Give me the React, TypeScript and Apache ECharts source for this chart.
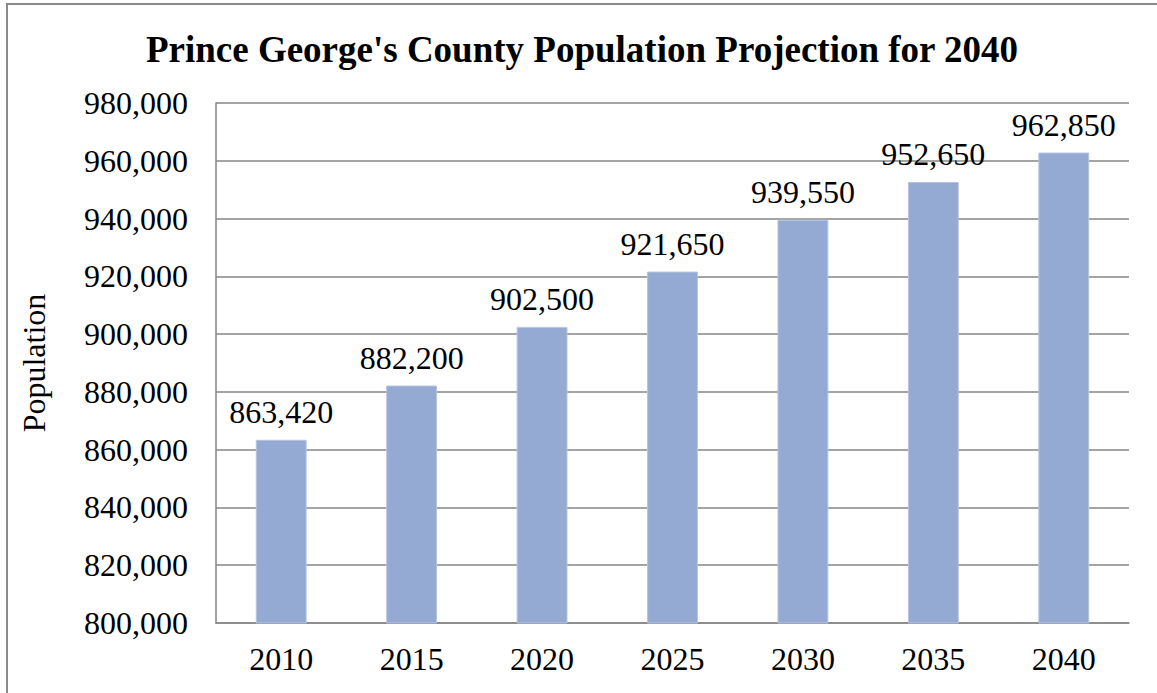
import React, { useEffect, useRef } from "react";
import * as echarts from "echarts";

const titleText = "Prince George's County Population Projection for 2040";
const years = ["2010", "2015", "2020", "2025", "2030", "2035", "2040"];
const population = [863420, 882200, 902500, 921650, 939550, 952650, 962850];
const yAxisName = "Population";
const yMin = 800000;
const yMax = 980000;
const yInterval = 20000;

const FONT = "'Liberation Serif', 'Times New Roman', serif";

const fmt = (v: number) => v.toLocaleString("en-US");

export default function App() {
  const ref = useRef<HTMLDivElement>(null);
  useEffect(() => {
    if (!ref.current) return;
    const chart = echarts.init(ref.current, undefined, { renderer: "svg" });
    chart.setOption({
      animation: false,
      backgroundColor: "#ffffff",
      title: {
        text: titleText,
        left: 577,
        textAlign: "center",
        top: 26,
        textStyle: { fontFamily: FONT, fontWeight: "bold", fontSize: 37, color: "#000" },
      },
      graphic: [
        {
          type: "rect",
          shape: { x: 7, y: 4, width: 1300, height: 800 },
          style: { fill: "none", stroke: "#8a8a8a", lineWidth: 2 },
          silent: true,
        },
      ],
      grid: { left: 216, right: 28, top: 103, bottom: 70, show: false },
      xAxis: {
        type: "category",
        data: years,
        axisLine: { show: true, lineStyle: { color: "#868686", width: 1.5 } },
        axisTick: { show: false },
        axisLabel: { fontFamily: FONT, fontSize: 32, color: "#000", margin: 20 },
      },
      yAxis: {
        type: "value",
        min: yMin,
        max: yMax,
        interval: yInterval,
        name: yAxisName,
        nameLocation: "middle",
        nameGap: 166,
        nameRotate: 90,
        nameTextStyle: { fontFamily: FONT, fontSize: 32, color: "#000" },
        axisLine: { show: true, lineStyle: { color: "#868686", width: 1.5 } },
        axisTick: { show: false },
        splitLine: { show: true, lineStyle: { color: "#868686", width: 1.5 } },
        axisLabel: {
          fontFamily: FONT,
          fontSize: 32,
          color: "#000",
          margin: 28,
          formatter: (v: number) => fmt(v),
        },
      },
      series: [
        {
          type: "bar",
          data: population,
          barWidth: "39%",
          itemStyle: { color: "#94aad2", borderColor: "#b4c4e2", borderWidth: 1 },
          label: {
            show: true,
            position: "top",
            distance: 12,
            fontFamily: FONT,
            fontSize: 32,
            color: "#000",
            formatter: (p: any) => fmt(p.value),
          },
        },
      ],
    });
    return () => chart.dispose();
  }, []);
  return (
    <div
      ref={ref}
      style={{ position: "fixed", left: 0, top: 0, width: 1157, height: 693, background: "#fff" }}
    />
  );
}
